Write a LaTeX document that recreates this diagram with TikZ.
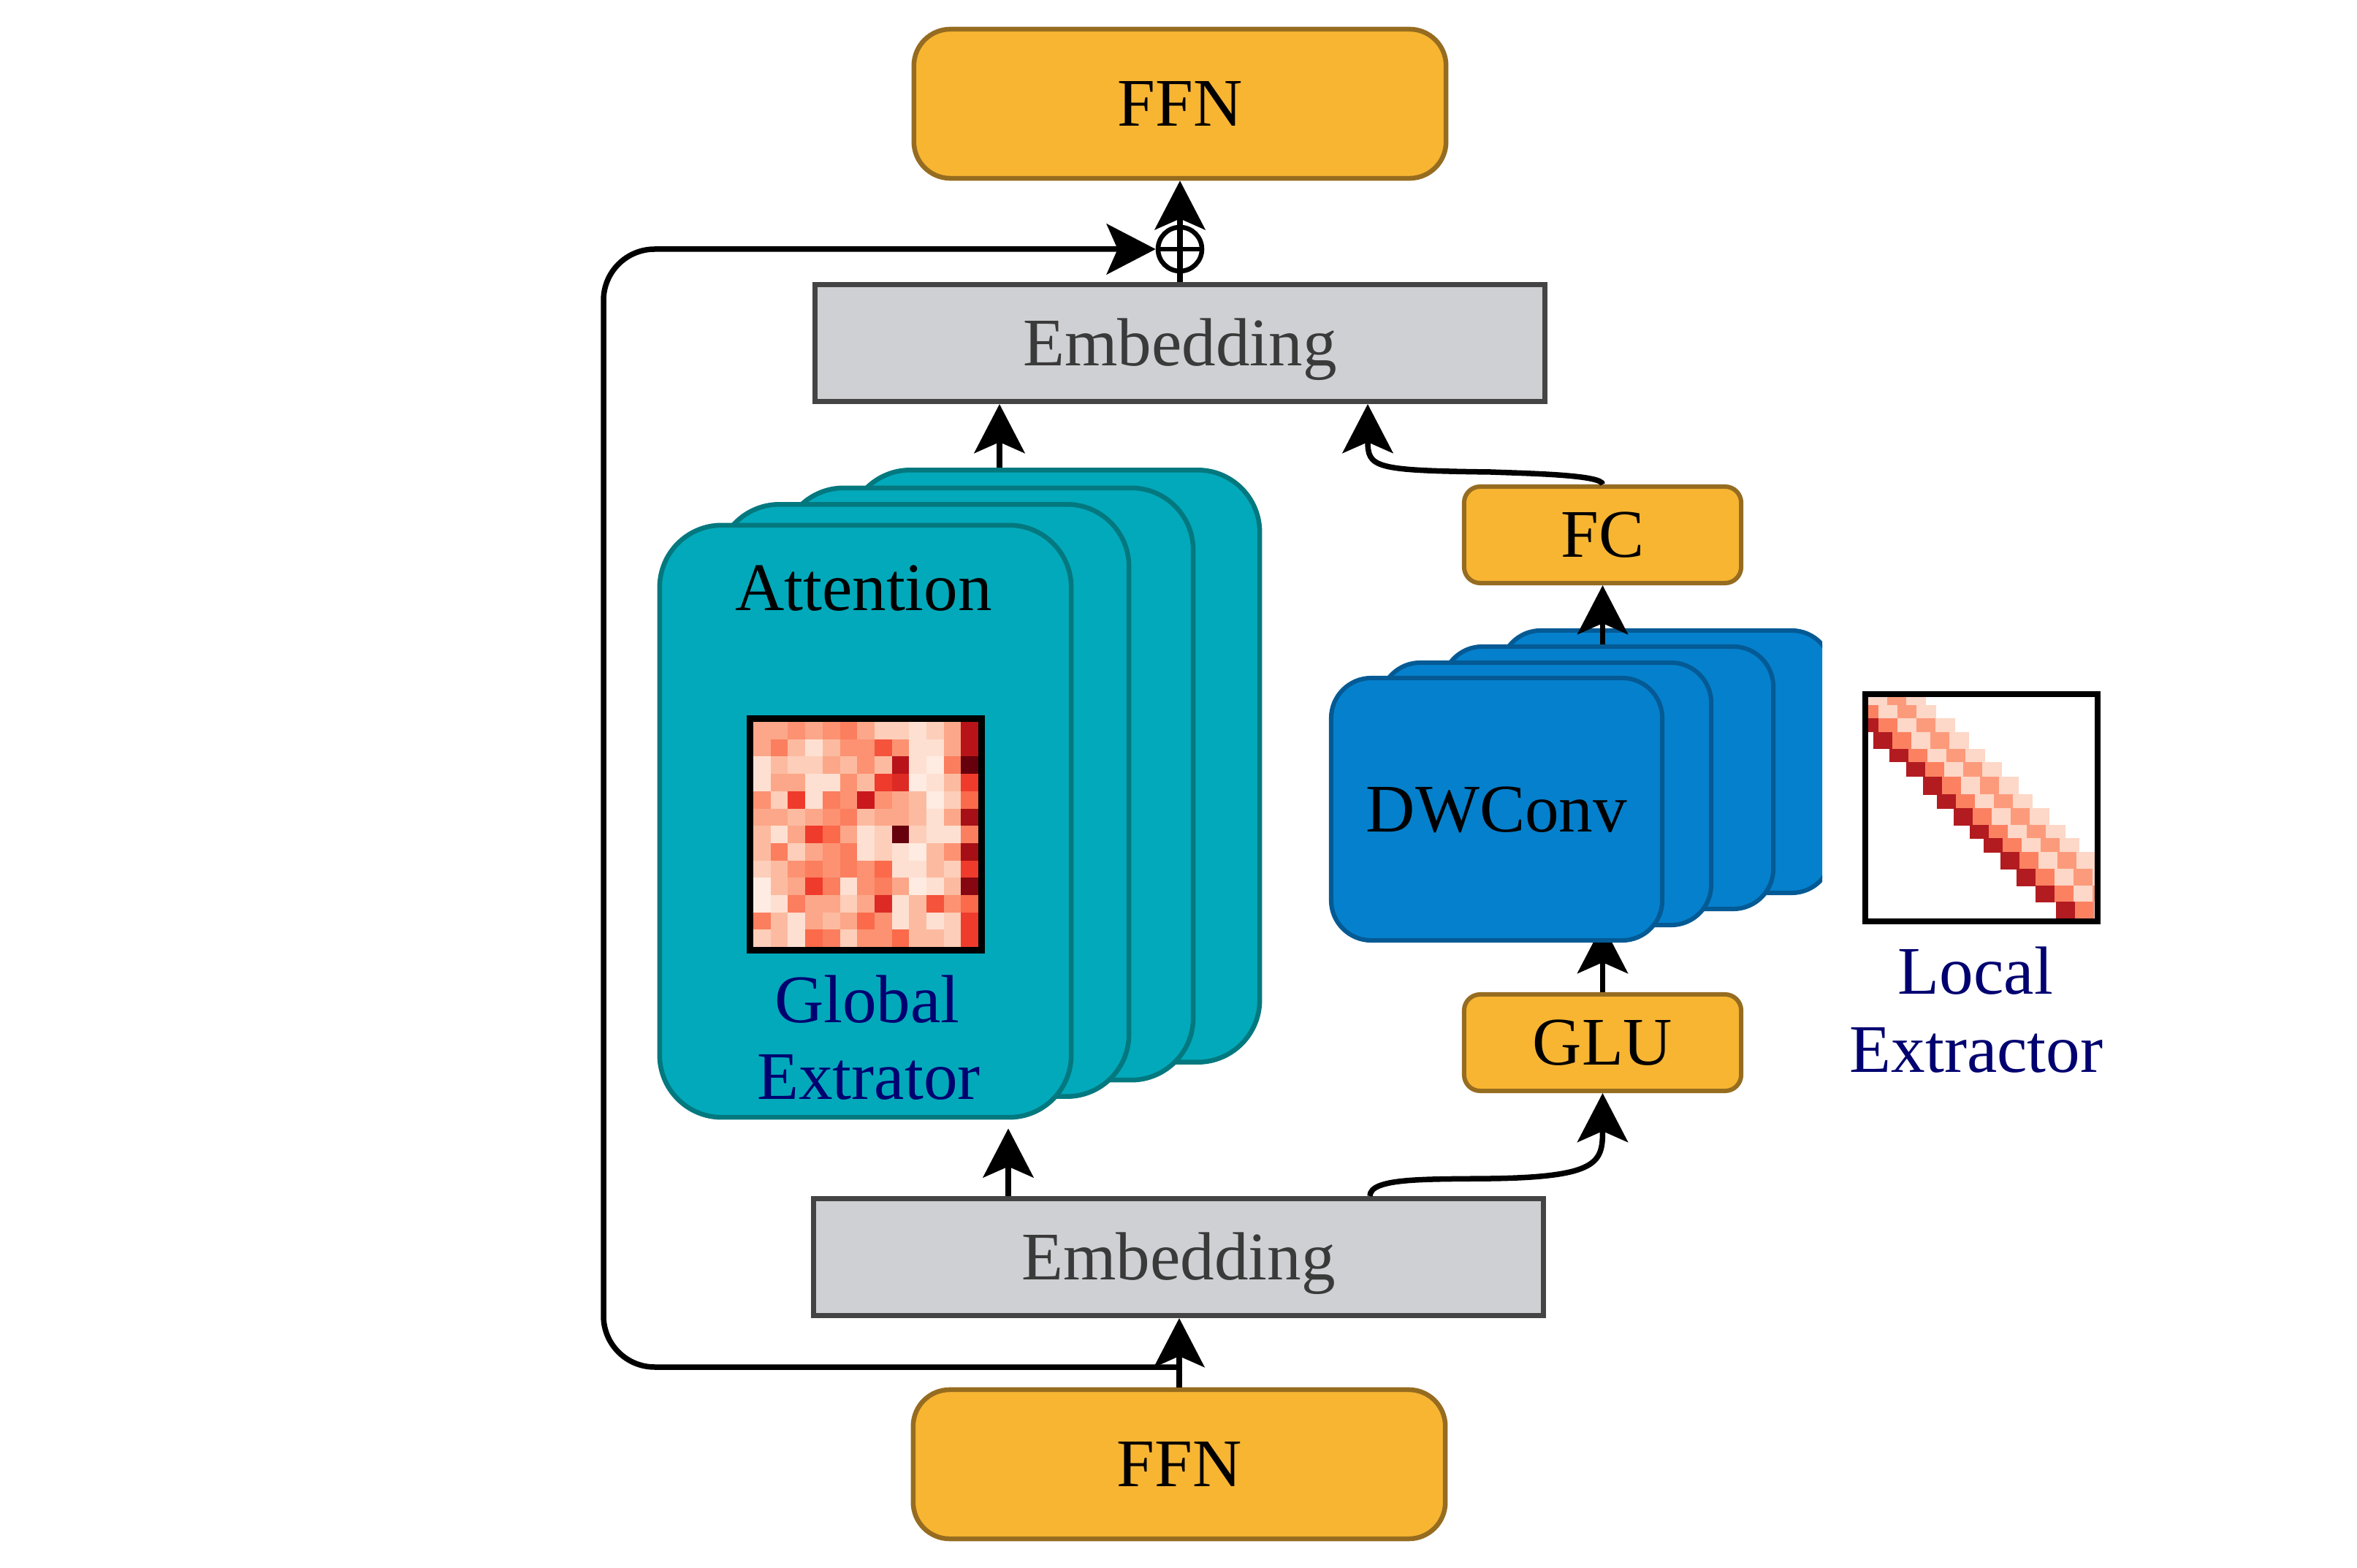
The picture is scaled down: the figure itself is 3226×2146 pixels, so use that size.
\documentclass[tikz,border=0pt]{standalone}
\usepackage{fontspec}
\setmainfont{Liberation Serif}
\usetikzlibrary{arrows.meta}
\pgfdeclarelayer{back}
\pgfdeclarelayer{bg}
\pgfsetlayers{back,bg,main}
\newcommand\diafont{\fontsize{26.5pt}{31pt}\selectfont}
\definecolor{ffnfill}{HTML}{F7B532}
\definecolor{ffnedge}{HTML}{966C20}
\definecolor{embfill}{HTML}{CFD0D4}
\definecolor{embedge}{HTML}{444444}
\definecolor{embtext}{HTML}{3A3A3A}
\definecolor{attfill}{HTML}{02A9BA}
\definecolor{attedge}{HTML}{03787F}
\definecolor{dwfill}{HTML}{0580CC}
\definecolor{dwedge}{HTML}{045A94}
\definecolor{navyt}{HTML}{000070}
\definecolor{R0}{HTML}{FFF5F0}
\definecolor{R1}{HTML}{FEE0D2}
\definecolor{R2}{HTML}{FCBBA1}
\definecolor{R3}{HTML}{FC9272}
\definecolor{R4}{HTML}{FB6A4A}
\definecolor{R5}{HTML}{EF3B2C}
\definecolor{R6}{HTML}{CB181D}
\definecolor{R7}{HTML}{A50F15}
\definecolor{R8}{HTML}{67000D}
\colorlet{H0}{R0}
\colorlet{H1}{R0!50!R1}
\colorlet{H2}{R1}
\colorlet{H3}{R1!50!R2}
\colorlet{H4}{R2}
\colorlet{H5}{R2!50!R3}
\colorlet{H6}{R3}
\colorlet{H7}{R3!50!R4}
\colorlet{H8}{R4}
\colorlet{H9}{R4!50!R5}
\colorlet{H10}{R5}
\colorlet{H11}{R5!50!R6}
\colorlet{H12}{R6}
\colorlet{H13}{R6!50!R7}
\colorlet{H14}{R7}
\colorlet{H15}{R7!50!R8}
\colorlet{H16}{R8}
\definecolor{bdark}{HTML}{B21B20}
\definecolor{borange}{HTML}{FC8161}
\definecolor{blight}{HTML}{FDD7C7}
\definecolor{bsalmon}{HTML}{FC9B7C}
\begin{document}
\begin{tikzpicture}[x=0.01cm, y=-0.01cm,
  every node/.style={font=\diafont, inner sep=0pt, text height=17.5pt, text depth=0pt},
  ffnbox/.style={draw=ffnedge, fill=ffnfill, line width=0.065cm, rounded corners=0.5cm,
    minimum width=7.28cm, minimum height=2.04cm},
  smallbox/.style={draw=ffnedge, fill=ffnfill, line width=0.06cm, rounded corners=0.22cm,
    minimum width=3.79cm, minimum height=1.32cm},
  embbox/.style={draw=embedge, fill=embfill, line width=0.07cm, text=embtext,
    minimum width=9.99cm, minimum height=1.6cm},
  attcard/.style={draw=attedge, fill=attfill, line width=0.065cm, rounded corners=0.85cm,
    minimum width=5.63cm, minimum height=8.1cm},
  dwcard/.style={draw=dwedge, fill=dwfill, line width=0.06cm, rounded corners=0.55cm,
    minimum width=4.53cm, minimum height=3.59cm},
  plusc/.style={circle, draw, line width=0.065cm, minimum size=0.6cm, text height=0pt},
  hmframe/.style={draw=black, line width=0.085cm},
  lbl/.style={anchor=base},
  conn/.style={line width=0.075cm, -{Stealth[length=0.67cm,width=0.69cm,inset=0.15cm]}},
  plain/.style={line width=0.065cm}
]
\begin{pgfonlayer}{back}
\fill[white] (0,0) rectangle (3226,2146);
\end{pgfonlayer}
\useasboundingbox (0,0) rectangle (3226,2146);

% top and bottom FFN, embeddings
\node[ffnbox] (ffnT) at (1615,142) {FFN};
\node[embbox] (embT) at (1615,469.5) {Embedding};
\node[embbox] (embB) at (1613,1720.5) {Embedding};
\node[ffnbox] (ffnB) at (1614,2004) {FFN};
\node[plusc] (plus) at (1615,341) {};

% attention stack
\node[attcard] (att4) at (1442.5,1048.5) {};
\node[attcard] (att3) at (1351.5,1073) {};
\node[attcard] (att2) at (1263.5,1095.5) {};
\node[attcard] (att1) at (1184.5,1124) {};
\node[lbl] (attlbl) at (1182,836) {Attention};
\node[lbl, text=navyt] (glob1) at (1187,1399) {Global};
\node[lbl, text=navyt] (glob2) at (1189,1504) {Extrator};

% global heat map
\foreach \row [count=\i from 0] in {
 {5,5,6,5,6,7,5,3,3,2,3,5,13},
 {5,7,4,2,4,6,6,9,6,2,2,5,13},
 {2,4,3,3,5,4,6,4,13,2,1,7,16},
 {2,5,5,2,2,6,4,10,11,1,2,4,10},
 {6,3,10,2,7,6,12,6,5,4,1,3,8},
 {5,5,4,5,6,7,4,5,5,4,2,5,14},
 {4,2,5,10,8,5,2,3,16,3,2,2,7},
 {4,7,3,5,6,7,2,3,2,1,4,6,14},
 {3,4,6,7,6,7,6,8,2,2,4,3,10},
 {1,4,5,10,7,2,6,7,5,1,2,4,15},
 {1,2,7,5,5,3,5,11,2,4,9,6,8},
 {7,4,2,5,4,5,8,6,2,4,2,3,10},
 {3,4,2,8,7,3,6,6,8,4,4,3,10}}{
  \foreach \v [count=\j from 0] in \row {
    \fill[H\v] ({1031+\j*23.7},{988+\i*23.7}) rectangle ++(24.2,24.2);
  }
}
\node[hmframe, minimum width=3.166cm, minimum height=3.166cm, text height=0pt] (ghm) at (1185,1142) {};

% DWConv stack
\begin{scope}
  \clip (0,0) rectangle (2494,2146);
  \node[dwcard] (dw4) at (2280.5,1042.5) {};
\end{scope}
\node[dwcard] (dw3) at (2200.5,1064.5) {};
\node[dwcard] (dw2) at (2115.5,1086.5) {};
\node[dwcard] (dw1) at (2048.5,1107.5) {DWConv};

\node[smallbox] (fc) at (2193.5,732) {FC};
\node[smallbox] (glu) at (2193.5,1427) {GLU};

% local band map
\begin{scope}
  \clip (2557,954) rectangle (2867,1257);
  \foreach \t/\b/\d in {0/11/-52, 11/29/-38, 29/48/-12, 48/71/7, 71/89/29, 89/109/52,
     109/133/75, 133/152/94, 152/175/117, 175/193/139, 193/212/158, 212/235/181,
     235/258/203, 258/280/229, 280/303/257}{
    \foreach \c [count=\k from 0] in {bdark,borange,blight,bsalmon,blight}{
      \fill[\c] ({2557+\d+\k*26},{954+\t}) rectangle ({2557+\d+\k*26+26.5},{954+\b+0.5});
    }
  }
\end{scope}
\node[hmframe, minimum width=3.18cm, minimum height=3.11cm, text height=0pt] (lhm) at (2712,1105.5) {};
\node[lbl, text=navyt] (loc1) at (2704,1360) {Local};
\node[lbl, text=navyt] (loc2) at (2705,1467) {Extractor};

% connectors
\coordinate (split) at (1614,1871);
\coordinate (lc) at (826,341);
\coordinate (ax) at (1368,0);
\coordinate (bx) at (1380,0);
\coordinate (gx) at (1875,0);
\coordinate (fx) at (1872,0);
\coordinate (gmid) at (2040,1613);
\coordinate (fmid) at (2040,646);

\begin{pgfonlayer}{bg}
  \draw[conn, shorten >=-0.25cm] (glu.north) -- (glu.north |- dw1.south);
\end{pgfonlayer}

\draw[conn] (embT.north) -- (ffnT.south);
\draw[plain] (plus.west) -- (plus.east);
\draw[conn, rounded corners=0.7cm] (split) -| (lc) -- (plus.west);
\draw[conn] (ffnB.north) -- (ffnB.north |- embB.south);
\draw[conn] (ax |- att4.north) -- (ax |- embT.south);
\draw[conn, shorten >=0.12cm] (bx |- embB.north) -- (bx |- att1.south);
\draw[conn] (gx |- embB.north) .. controls +(0,-25) and +(-90,1) .. (gmid)
   .. controls +(150,-2) and +(0,94) .. (glu.south);
\draw[conn] (fc.north) .. controls +(0,-13) and +(54,2) .. (fmid)
   .. controls +(-160,-2) and +(0,87) .. (fx |- embT.south);
\draw[conn] (fc.south |- dw3.north) -- (fc.south);
\end{tikzpicture}
\end{document}
